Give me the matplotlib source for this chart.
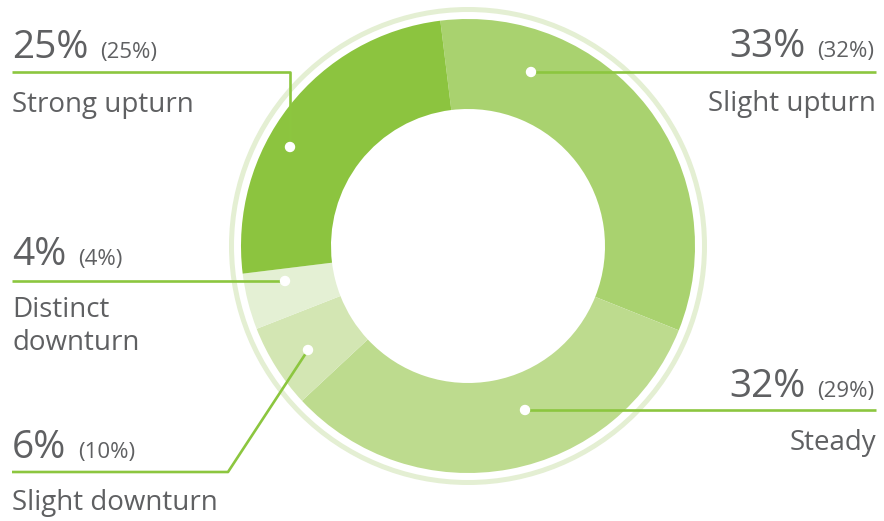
import matplotlib
matplotlib.use("Agg")
import matplotlib.pyplot as plt
from matplotlib.patches import Circle

# Survey outlook shares, clockwise from the top
categories = ["Slight upturn", "Steady", "Slight downturn", "Distinct downturn", "Strong upturn"]
current = [33, 32, 6, 4, 25]
previous = [32, 29, 10, 4, 25]
colors = ["#a9d26f", "#bddb8e", "#d3e6b3", "#e4f0d4", "#8cc43f"]

W, H = 884, 521
TEXT = "#5f6062"
LINE = "#8cc63f"
FONT = "Open Sans"
BIG, SMALL, LABEL = 28, 16, 20


def Y(y):
    # layout below is given top-down in pixels
    return H - y


fig = plt.figure(figsize=(W / 100, H / 100), dpi=100)
ax = fig.add_axes([0, 0, 1, 1])

cx, cy, R = 468, 246, 227
ax.pie(current, radius=R, center=(cx, Y(cy)), startangle=97, counterclock=False,
       colors=colors, wedgeprops=dict(width=90, linewidth=0), frame=True)
ax.add_patch(Circle((cx, Y(cy)), 236.5, fill=False, ec="#e4efd3", lw=3.6))
ax.set_xlim(0, W)
ax.set_ylim(0, H)
ax.set_aspect("equal")
ax.axis("off")

# label layout: (category index, side, line path, dot, big-text baseline, label lines, label baseline)
layout = [
    (4, "left", [(12, 72), (290, 72), (290, 147)], (290, 147), 58, ["Strong upturn"], 112),
    (3, "left", [(12, 281), (285, 281)], (285, 281), 265, ["Distinct", "downturn"], 317),
    (2, "left", [(12, 472), (228, 472), (308, 350)], (308, 350), 458, ["Slight downturn"], 510),
    (0, "right", [(531, 72), (876, 72)], (531, 72), 57, ["Slight upturn"], 111),
    (1, "right", [(525, 410), (876, 410)], (525, 410), 397, ["Steady"], 450),
]

for idx, side, path, dot, base, label_lines, lbase in layout:
    xs = [p[0] for p in path]
    ys = [Y(p[1]) for p in path]
    ax.plot(xs, ys, color=LINE, lw=1.9, solid_capstyle="butt", zorder=3)
    ax.add_patch(Circle((dot[0], Y(dot[1])), 4.5, color="white", zorder=4))

    big = f"{current[idx]}%"
    small = f"({previous[idx]}%)"
    if side == "left":
        t = ax.text(12, Y(base), big, fontsize=BIG, color=TEXT, family=FONT,
                    ha="left", va="baseline")
        fig.canvas.draw()
        bb = t.get_window_extent()
        ax.text(bb.x1 + 12, Y(base), small, fontsize=SMALL, color=TEXT, family=FONT,
                ha="left", va="baseline")
        for k, s in enumerate(label_lines):
            ax.text(12, Y(lbase + k * 33), s, fontsize=LABEL, color=TEXT, family=FONT,
                    ha="left", va="baseline")
    else:
        t = ax.text(874, Y(base), small, fontsize=SMALL, color=TEXT, family=FONT,
                    ha="right", va="baseline")
        fig.canvas.draw()
        bb = t.get_window_extent()
        ax.text(bb.x0 - 11, Y(base), big, fontsize=BIG, color=TEXT, family=FONT,
                ha="right", va="baseline")
        for k, s in enumerate(label_lines):
            ax.text(876, Y(lbase + k * 33), s, fontsize=LABEL, color=TEXT, family=FONT,
                    ha="right", va="baseline")

fig.savefig("out.png", dpi=100, facecolor="white")
